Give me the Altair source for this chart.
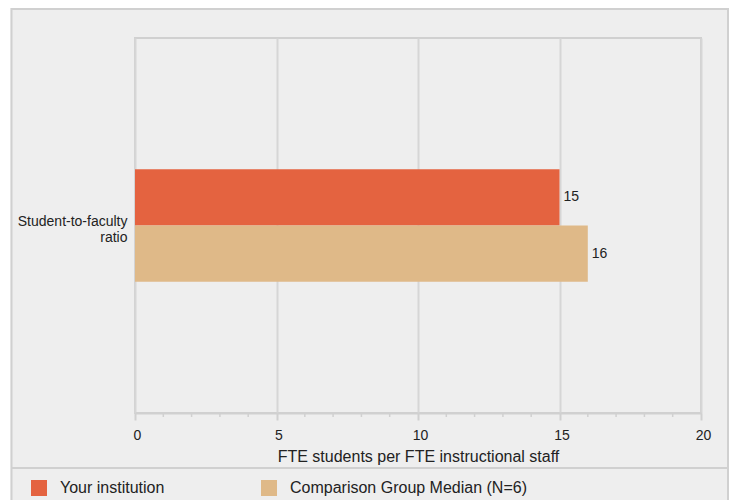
import altair as alt
import pandas as pd

# ---- data ----
categories = ["Student-to-faculty ratio"]
series = ["Your institution", "Comparison Group Median (N=6)"]
values = [15, 16]
colors = ["#E46340", "#DFB988"]
x_ticks = [0, 5, 10, 15, 20]
minor_ticks = [1, 2, 3, 4, 6, 7, 8, 9, 11, 12, 13, 14, 16, 17, 18, 19]

df = pd.DataFrame({
    "category": [categories[0]] * len(series),
    "series": series,
    "value": values,
})
minor_df = pd.DataFrame({"value": minor_ticks})
one = pd.DataFrame({"a": [0]})

FONT = "Liberation Sans"
TXT = "#222222"
LINE = "#d0d0d0"
W, H = 566, 375

xscale = alt.Scale(domain=[0, 20], nice=False)
xaxis = alt.Axis(
    values=x_ticks,
    grid=True, gridColor="#d6d6d6", gridWidth=2,
    domainColor=LINE, domainWidth=2,
    tickColor=LINE, tickWidth=2, tickSize=7,
    labelFontSize=14, labelColor=TXT, labelPadding=8, labelFlush=False, labelOffset=2,
    title="FTE students per FTE instructional staff",
    titleFontSize=16, titleFontWeight="normal", titleColor=TXT, titlePadding=6,
)
yscale = alt.Scale(paddingInner=0.7, paddingOuter=0.35)
yaxis = alt.Axis(
    title=None, ticks=False, domain=False, grid=False,
    labelFontSize=14, labelColor=TXT, labelPadding=8,
    labelExpr="split(datum.label, ' ')", labelLineHeight=16, labelOffset=-4,
)

# decorations: frame, white strip, separator line
frame = alt.Chart(one).mark_rect(fill="transparent", stroke=LINE, strokeWidth=2).encode(
    x=alt.value(-123.5), x2=alt.value(593), y=alt.value(-29), y2=alt.value(480)
)
strip_l = alt.Chart(one).mark_rect(fill="white").encode(
    x=alt.value(-140), x2=alt.value(-124.5), y=alt.value(-40), y2=alt.value(480)
)
sep = alt.Chart(one).mark_rule(color=LINE, strokeWidth=2).encode(
    x=alt.value(-123.5), x2=alt.value(593), y=alt.value(430)
)

bars = alt.Chart(df).mark_bar().encode(
    x=alt.X("value:Q", scale=xscale, axis=xaxis),
    y=alt.Y("category:N", scale=yscale, axis=yaxis),
    yOffset=alt.YOffset("series:N", sort=series),
    color=alt.Color(
        "series:N",
        sort=series,
        scale=alt.Scale(domain=series, range=colors),
        legend=alt.Legend(
            orient="none", legendX=-104, legendY=442, direction="horizontal",
            title=None, symbolType="square", symbolSize=256, symbolStrokeWidth=0,
            symbolOpacity=1, labelFontSize=16, labelColor=TXT, labelOffset=13,
            columnPadding=96, padding=0, labelLimit=400,
        ),
    ),
)

labels = alt.Chart(df).mark_text(align="left", baseline="middle", dx=4, fontSize=14, color=TXT).encode(
    x=alt.X("value:Q", scale=xscale, axis=xaxis),
    y=alt.Y("category:N", scale=yscale, axis=yaxis),
    yOffset=alt.YOffset("series:N", sort=series),
    text=alt.Text("value:Q"),
)

minor = alt.Chart(minor_df).mark_rule(color=LINE, strokeWidth=1.5).encode(
    x=alt.X("value:Q", scale=xscale, axis=xaxis),
    y=alt.value(H), y2=alt.value(H + 4),
)

chart = alt.layer(bars, labels, minor, strip_l, frame, sep).properties(
    width=W, height=H,
    autosize=alt.AutoSizeParams(type="none"),
    padding={"left": 127, "top": 30, "right": 28, "bottom": 87},
    background="#eeeeee",
).configure(font=FONT).configure_view(stroke=LINE, strokeWidth=2, fill="#eeeeee")

chart.save("out.html", embed_options={"renderer": "svg", "actions": False})
